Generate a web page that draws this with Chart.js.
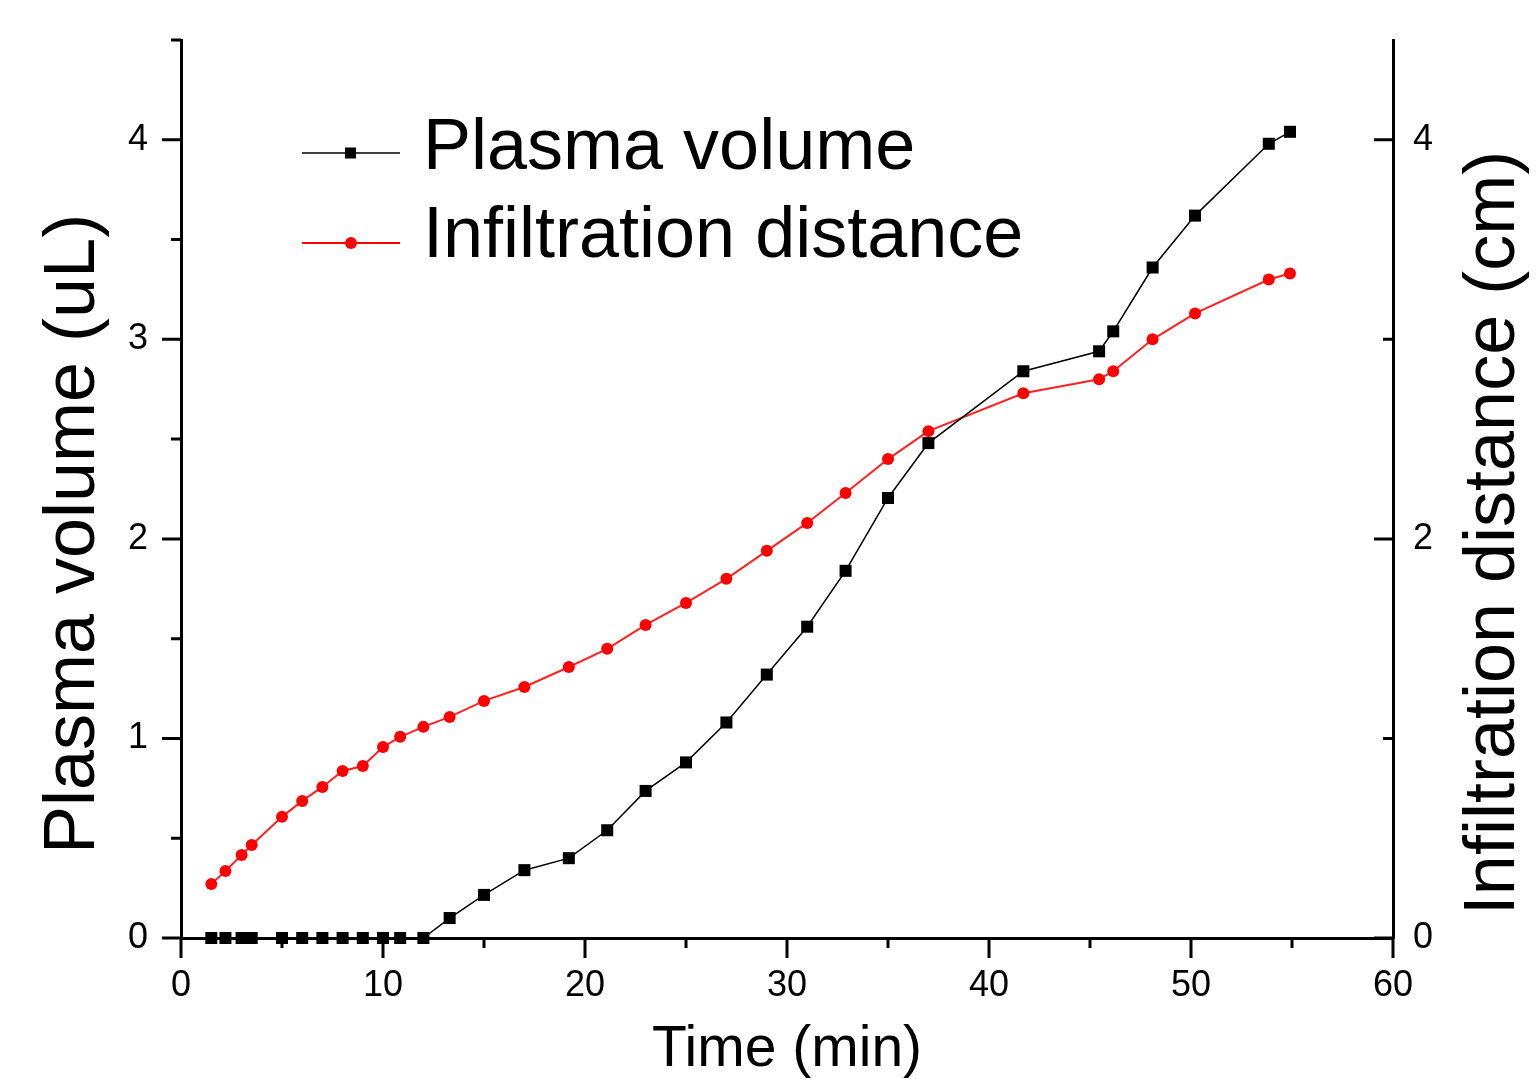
<!DOCTYPE html>
<html>
<head>
<meta charset="utf-8">
<script src="https://cdn.jsdelivr.net/npm/chart.js@4.4.1/dist/chart.umd.min.js"></script>
<style>
  html, body { margin: 0; padding: 0; background: #fff; }
  #wrap { width: 1536px; height: 1079px; }
</style>
</head>
<body>
<div id="wrap"><canvas id="plasmaChart"></canvas></div>
<script>
// time of each measurement (min), shared by both series
const times = [1.5, 2.2, 3.0, 3.5, 5, 6, 7, 8, 9, 10, 10.85, 12, 13.3, 15, 17, 19.2, 21.1, 23, 25, 27,
  29, 31, 32.9, 35, 37, 41.7, 45.45, 46.15, 48.1, 50.2, 53.85, 54.9];
// plasma volume (uL)
const plasmaVolume = [0, 0, 0, 0, 0, 0, 0, 0, 0, 0, 0, 0, 0.10, 0.216, 0.34, 0.40, 0.54, 0.737, 0.88, 1.08,
  1.32, 1.56, 1.84, 2.205, 2.48, 2.84, 2.94, 3.04, 3.36, 3.62, 3.98, 4.04];
// infiltration distance (cm)
const infiltration = [0.27, 0.336, 0.416, 0.466, 0.607, 0.687, 0.757, 0.837, 0.862, 0.957, 1.008, 1.058,
  1.108, 1.188, 1.258, 1.358, 1.449, 1.569, 1.679, 1.80, 1.94, 2.08, 2.23, 2.40, 2.54, 2.73, 2.80, 2.84,
  3.00, 3.13, 3.30, 3.33];

const xMajorTicks = [0, 10, 20, 30, 40, 50, 60];
const xMinorTicks = [5, 15, 25, 35, 45, 55];
const yMajorTicks = [0, 1, 2, 3, 4];
const yMinorTicks = [0.5, 1.5, 2.5, 3.5, 4.5];
const y1MajorTicks = [0, 2, 4];
const y1MinorTicks = [1, 3];

const FONT = '"Liberation Sans", Arial, sans-serif';

function toPoints(xs, ys) {
  return xs.map((t, i) => ({ x: t, y: ys[i] }));
}

// minor / major tick marks drawn at scale values
const tickMarks = {
  id: 'tickMarks',
  afterDraw(chart) {
    const { ctx, chartArea } = chart;
    const sx = chart.scales.x, sy = chart.scales.y, sy1 = chart.scales.y1;
    ctx.save();
    ctx.strokeStyle = '#000';
    ctx.lineWidth = 3;
    ctx.beginPath();
    xMajorTicks.concat(xMinorTicks).forEach(v => {
      const px = sx.getPixelForValue(v);
      const len = xMajorTicks.includes(v) ? 20 : 10;
      ctx.moveTo(px, chartArea.bottom);
      ctx.lineTo(px, chartArea.bottom + len);
    });
    yMajorTicks.concat(yMinorTicks).forEach(v => {
      const py = sy.getPixelForValue(v);
      const len = yMajorTicks.includes(v) ? 19 : 10;
      ctx.moveTo(chartArea.left, py);
      ctx.lineTo(chartArea.left - len, py);
    });
    y1MajorTicks.concat(y1MinorTicks).forEach(v => {
      const py = sy1.getPixelForValue(v);
      const len = y1MajorTicks.includes(v) ? 19 : 10;
      ctx.moveTo(chartArea.right, py);
      ctx.lineTo(chartArea.right - len, py);
    });
    ctx.stroke();
    ctx.restore();
  }
};

// axis titles and the legend box inside the plot
const labels = {
  id: 'labels',
  afterDraw(chart) {
    const { ctx } = chart;
    ctx.save();
    ctx.fillStyle = '#000';
    ctx.textAlign = 'center';
    ctx.textBaseline = 'alphabetic';

    ctx.font = '72px ' + FONT;
    ctx.save();
    ctx.translate(94, 534);
    ctx.rotate(-Math.PI / 2);
    ctx.fillText('Plasma volume (uL)', 0, 0);
    ctx.restore();

    ctx.save();
    ctx.translate(1514, 533);
    ctx.rotate(-Math.PI / 2);
    ctx.fillText('Infiltration distance (cm)', 0, 0);
    ctx.restore();

    ctx.font = '57px ' + FONT;
    ctx.fillText('Time (min)', 787, 1066);

    // legend
    ctx.textAlign = 'left';
    ctx.font = '72px ' + FONT;
    const rows = [
      { y: 153, base: 169, color: '#000', width: 1.5, shape: 'rect', text: 'Plasma volume' },
      { y: 243, base: 257, color: '#ff0000', width: 2, shape: 'circle', text: 'Infiltration distance' }
    ];
    rows.forEach(r => {
      ctx.strokeStyle = r.color;
      ctx.lineWidth = r.width;
      ctx.beginPath();
      ctx.moveTo(302, r.y);
      ctx.lineTo(400, r.y);
      ctx.stroke();
      ctx.fillStyle = r.color;
      if (r.shape === 'rect') {
        ctx.fillRect(345, r.y - 5.5, 11, 11);
      } else {
        ctx.beginPath();
        ctx.arc(351, r.y, 6, 0, Math.PI * 2);
        ctx.fill();
      }
      ctx.fillStyle = '#000';
      ctx.fillText(r.text, 423, r.base);
    });
    ctx.restore();
  }
};

function fitY(width) {
  return function (scale) {
    scale.width = width;
    scale.paddingTop = 0;
    scale.paddingBottom = 0;
  };
}

const ctx = document.getElementById('plasmaChart').getContext('2d');
const plasmaChart = new Chart(ctx, {
  type: 'scatter',
  data: {
    datasets: [{
      label: 'Plasma volume',
      data: toPoints(times, plasmaVolume),
      showLine: true,
      borderColor: '#000',
      backgroundColor: '#000',
      borderWidth: 1.5,
      pointStyle: 'rect',
      pointRadius: 8.5,
      pointBorderWidth: 0,
      pointHoverRadius: 8.5,
      yAxisID: 'y',
      clip: false
    }, {
      label: 'Infiltration distance',
      data: toPoints(times, infiltration),
      showLine: true,
      borderColor: '#ff2020',
      backgroundColor: '#ff0000',
      borderWidth: 2,
      pointStyle: 'circle',
      pointRadius: 6,
      pointBorderWidth: 0,
      pointHoverRadius: 6,
      yAxisID: 'y1',
      clip: false
    }]
  },
  options: {
    responsive: true,
    maintainAspectRatio: false,
    animation: false,
    layout: { padding: { top: 40, left: 0, right: 0, bottom: 0 } },
    scales: {
      x: {
        type: 'linear',
        min: 0,
        max: 60,
        ticks: { stepSize: 10, color: '#000', font: { size: 36, family: FONT }, padding: 26, maxRotation: 0 },
        grid: { display: false, drawTicks: false },
        border: { display: true, color: '#000', width: 3 },
        afterFit(scale) { scale.height = 141; scale.paddingLeft = 0; scale.paddingRight = 0; }
      },
      y: {
        position: 'left',
        min: 0,
        max: 4.5,
        ticks: { stepSize: 1, includeBounds: false, color: '#000', font: { size: 36, family: FONT }, padding: 33 },
        grid: { display: false, drawTicks: false },
        border: { display: true, color: '#000', width: 3 },
        afterFit: fitY(181)
      },
      y1: {
        position: 'right',
        min: 0,
        max: 4.5,
        ticks: { stepSize: 2, includeBounds: false, color: '#000', font: { size: 36, family: FONT }, padding: 20 },
        grid: { display: false, drawTicks: false },
        border: { display: true, color: '#000', width: 3 },
        afterFit: fitY(143)
      }
    },
    plugins: {
      legend: { display: false },
      tooltip: { enabled: false }
    }
  },
  plugins: [tickMarks, labels]
});
</script>
</body>
</html>
